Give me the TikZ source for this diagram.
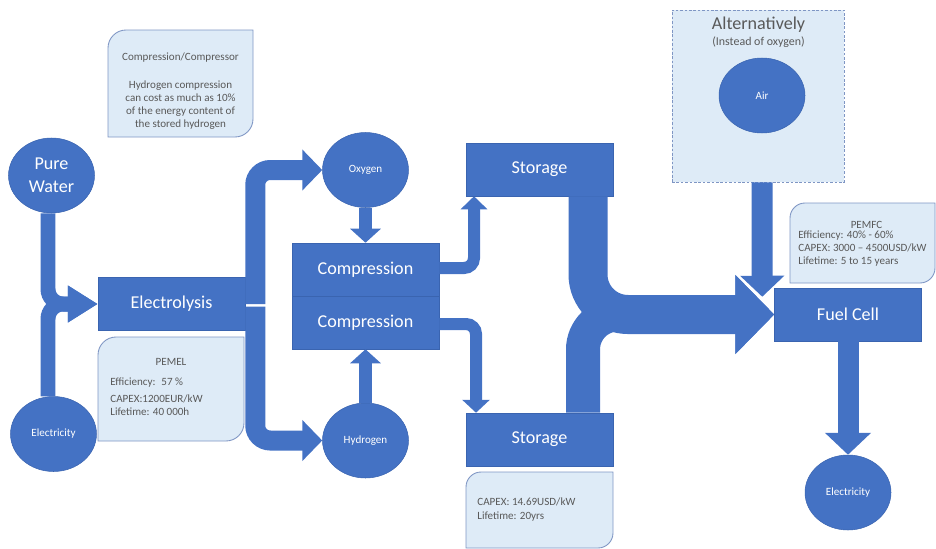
\documentclass[tikz,border=0pt]{standalone}
\usepackage{fontspec}
\setmainfont{Carlito}
\usepackage{tikz}
\usetikzlibrary{arrows.meta}
\usetikzlibrary{calc}
\usetikzlibrary{shapes.geometric}

\definecolor{flowblue}{HTML}{4472C4}
\definecolor{edgeblue}{HTML}{3A64B0}
\definecolor{paleblue}{HTML}{DEEBF7}
\definecolor{noteedge}{HTML}{7F96C4}
\definecolor{notegray}{HTML}{595959}

\tikzset{
	blob/.style={ellipse, fill=flowblue, draw=edgeblue, line width=0.3pt, text=white, inner sep=0pt,
		minimum width=1.72cm, minimum height=1.5cm, font=\fontsize{6.3}{7.5}\selectfont},
	unitbox/.style={rectangle, fill=flowblue, draw=edgeblue, line width=0.3pt, text=white, inner sep=0pt,
		minimum width=2.94cm, minimum height=1.06cm, font=\fontsize{10.3}{12.5}\selectfont},
	flow/.style={draw=flowblue, line cap=butt},
	notebox/.style={fill=paleblue, draw=noteedge, line width=0.5pt},
	notetext/.style={text=notegray, inner sep=0pt, font=\fontsize{6.3}{7.4}\selectfont},
	altbox/.style={rectangle, fill=paleblue, draw=noteedge, line width=0.5pt, dash pattern=on 1.5pt off 1pt,
		minimum width=3.44cm, minimum height=3.44cm},
}

\newcommand{\notepanel}[5]{%
	\path[notebox] (#1,#2+#5) .. controls (#1,#2+0.45*#5) and (#1+0.45*#5,#2) .. (#1+#5,#2) -- (#3,#2)
		-- (#3,#4-#5) .. controls (#3,#4-0.45*#5) and (#3-0.45*#5,#4) .. (#3-#5,#4) -- (#1,#4) -- cycle;}

\begin{document}
\begin{tikzpicture}[x=0.02cm, y=-0.02cm]
		\useasboundingbox (0,0) rectangle (936,548);

		\notepanel{108}{30}{253}{137}{18}
		\node[notetext] (cmptitle) at (180.5,58) {Compression/Compressor};
		\node[notetext, align=center] (cmpbody) at (180.5,105.5) {Hydrogen compression\\can cost as much as 10\%\\of the energy content of\\the stored hydrogen};

		\notepanel{98}{337}{244}{441}{18}
		\node[notetext] (pemeltitle) at (171,362) {PEMEL};
		\node[notetext, anchor=west, align=left] (pemelbody) at (110,396.5) {Efficiency:~ 57~\%\\[2.5pt]CAPEX:1200EUR/kW\\Lifetime: 40 000h};

		\notepanel{466}{472}{613}{548}{15}
		\node[notetext, anchor=west, align=left] (storinfo) at (477,510) {CAPEX: 14.69USD/kW\\[0.6pt]Lifetime: 20yrs};

		\notepanel{790}{203}{935}{283}{15}
		\node[notetext] (pemfctitle) at (866.5,225) {PEMFC};
		\node[notetext, anchor=west, align=left] (pemfcbody) at (798,249) {Efficiency: 40\% - 60\%\\CAPEX: 3000 -- 4500USD/kW\\Lifetime: 5 to 15 years};

		\node[altbox] (alt) at (758,96) {};
		\node[text=notegray, font=\fontsize{10.3}{12}\selectfont] (alttitle) at (758.5,25) {Alternatively};
		\node[notetext, font=\fontsize{6.8}{8}\selectfont] (altsub) at (758.5,42) {(Instead of oxygen)};
		\node[blob] (air) at (762,95.5) {Air};

		\node[blob, align=center, font=\fontsize{10.3}{13}\selectfont] (water) at (51.5,175.5) {Pure\\Water};
		\node[blob] (powerin) at (53.5,434) {Electricity};
		\node[unitbox] (elys) at (171.5,304) {Electrolysis};
		\node[blob] (oxy) at (365.5,170) {Oxygen};
		\node[blob] (hyd) at (365.5,440.5) {Hydrogen};
		\node[unitbox] (compA) at (365.5,269.5) {Compression};
		\node[unitbox] (compB) at (365.5,322.5) {Compression};
		\node[unitbox] (stTop) at (539.5,169.5) {Storage};
		\node[unitbox] (stBot) at (539.5,439.5) {Storage};
		\node[unitbox] (fuel) at (848,314.5) {Fuel Cell};
		\node[blob] (powerout) at (848,492.5) {Electricity};

		\draw[flow, line width=0.3cm, rounded corners=0.3cm, -{Triangle[width=0.7cm,length=0.6cm]}] ($(water.south)+(-3.5,0)$) |- (elys.west);
		\draw[flow, line width=0.3cm, rounded corners=0.3cm, -{Triangle[width=0.7cm,length=0.6cm]}] ($(powerin.north)+(-5.5,0)$) |- (elys.west);

		\draw[flow, line width=0.4cm, rounded corners=0.3cm, -{Triangle[width=0.8cm,length=0.4cm]}] ($(elys.east)+(10,0)$) |- (oxy.west);
		\draw[flow, line width=0.4cm, rounded corners=0.3cm, -{Triangle[width=0.8cm,length=0.4cm]}] ($(elys.east)+(10,2.5)$) |- (hyd.west);

		\draw[flow, line width=0.26cm, -{Triangle[width=0.6cm,length=0.28cm]}] (oxy.south) -- (compA.north);
		\draw[flow, line width=0.26cm, -{Triangle[width=0.6cm,length=0.28cm]}] (hyd.north) -- (compB.south);

		\draw[flow, line width=0.24cm, rounded corners=0.2cm, -{Triangle[width=0.52cm,length=0.26cm]}] ($(compA.east)+(0,-1.5)$) -| ($(stTop.south)+(-65.5,0)$);
		\draw[flow, line width=0.24cm, rounded corners=0.2cm, -{Triangle[width=0.54cm,length=0.26cm]}] ($(compB.east)+(0,1.5)$) -| ($(stBot.north)+(-63.5,0)$);

		\draw[flow, line width=0.68cm, rounded corners=0.7cm, -{Triangle[width=1.54cm,length=0.78cm]}] ($(stBot.north)+(43.5,0)$) |- (fuel.west);
		\draw[flow, line width=0.78cm, rounded corners=0.8cm, -{Triangle[width=1.54cm,length=0.78cm]}] ($(stTop.south)+(48.5,0)$) |- (fuel.west);

		\draw[flow, line width=0.42cm, -{Triangle[width=0.86cm,length=0.42cm]}] ($(alt.south)+(4,0)$) -- ($(fuel.north west)+(-12,9)$);
		\draw[flow, line width=0.42cm, -{Triangle[width=0.9cm,length=0.44cm]}] (fuel.south) -- (powerout.north);
\end{tikzpicture}
\end{document}
